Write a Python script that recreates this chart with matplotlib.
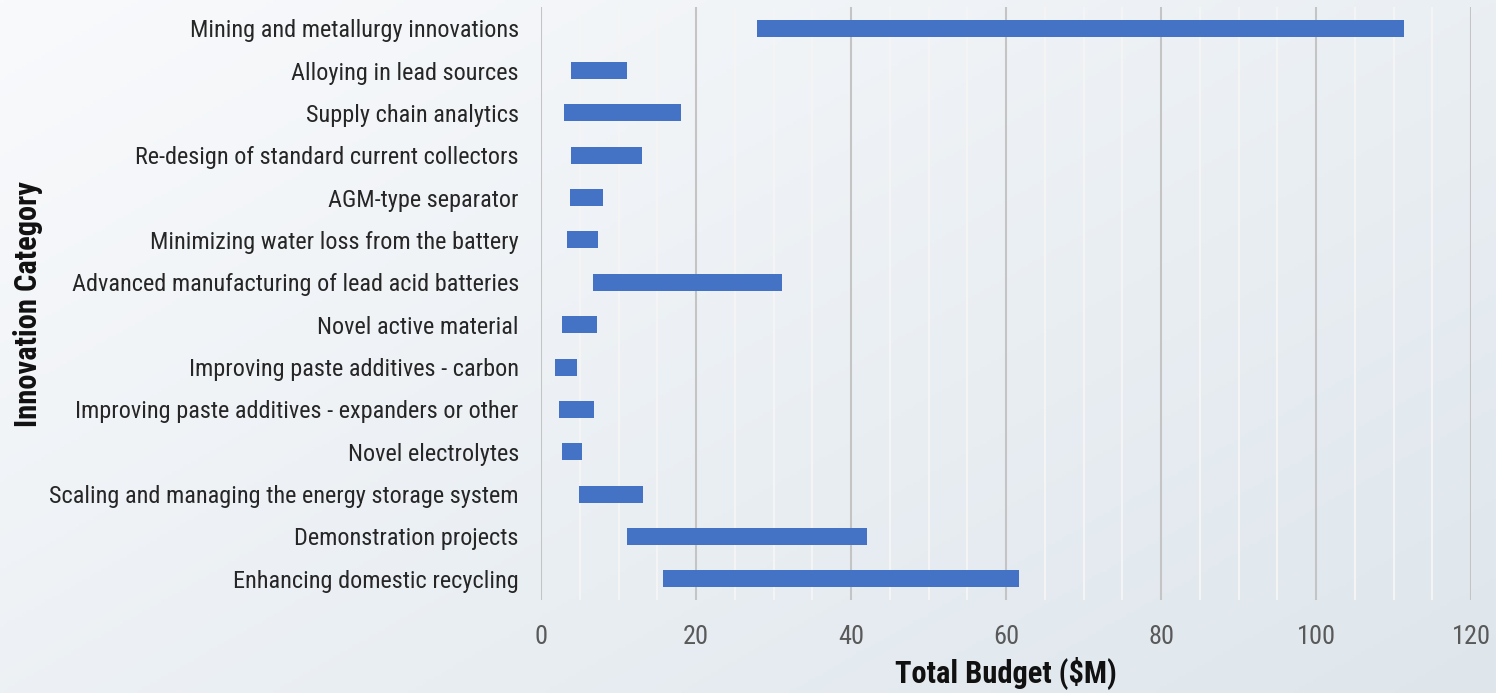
import numpy as np
import matplotlib
matplotlib.use("Agg")
import matplotlib.pyplot as plt
from matplotlib.ticker import MultipleLocator

plt.rcParams['font.family'] = ['Roboto Condensed', 'Roboto', 'DejaVu Sans']

# Innovation categories (top to bottom) with budget ranges in $M
categories = [
    "Mining and metallurgy innovations",
    "Alloying in lead sources",
    "Supply chain analytics",
    "Re-design of standard current collectors",
    "AGM-type separator",
    "Minimizing water loss from the battery",
    "Advanced manufacturing of lead acid batteries",
    "Novel active material",
    "Improving paste additives - carbon",
    "Improving paste additives - expanders or other",
    "Novel electrolytes",
    "Scaling and managing the energy storage system",
    "Demonstration projects",
    "Enhancing domestic recycling",
]
budget_low = [27.9, 3.9, 3.0, 3.9, 3.7, 3.4, 6.7, 2.7, 1.8, 2.3, 2.7, 4.9, 11.1, 15.8]
budget_high = [111.4, 11.1, 18.1, 13.0, 8.0, 7.4, 31.1, 7.2, 4.6, 6.9, 5.3, 13.2, 42.1, 61.7]

fig = plt.figure(figsize=(14.96, 6.93), dpi=100)

# soft diagonal background gradient
bg = fig.add_axes([0, 0, 1, 1], zorder=-10)
bg.axis("off")
h, w = 200, 400
yy, xx = np.mgrid[0:1:h * 1j, 0:1:w * 1j]
t = np.clip(0.55 * xx + 0.45 * yy, 0, 1)[..., None]
c0 = np.array([249, 250, 252]) / 255.0
c1 = np.array([222, 230, 236]) / 255.0
bg.imshow(c0 * (1 - t) + c1 * t, aspect="auto", extent=[0, 1, 0, 1], origin="upper")

ax = fig.add_axes([541 / 1496, 1 - 600 / 693, 930 / 1496, 593 / 693])
ax.patch.set_alpha(0)

y = np.arange(len(categories))
widths = np.array(budget_high) - np.array(budget_low)
ax.barh(y, widths, left=budget_low, height=0.4, color="#4472C4", zorder=3)

ax.set_xlim(0, 120)
ax.set_ylim(len(categories) - 0.5, -0.5)
ax.set_yticks(y)
ax.set_yticklabels(categories, fontsize=17.5, color="#262626")
ax.xaxis.set_major_locator(MultipleLocator(20))
ax.xaxis.set_minor_locator(MultipleLocator(5))
ax.tick_params(axis="x", which="both", length=0, pad=18, labelsize=19, labelcolor="#595959")
ax.tick_params(axis="y", length=0, pad=16)

ax.grid(axis="x", which="major", color="#c4c4c4", linewidth=1.5, zorder=1)
ax.grid(axis="x", which="minor", color="#f5f5f5", linewidth=1.4, zorder=1)
for s in ax.spines.values():
    s.set_visible(False)

ax.set_xlabel("Total Budget ($M)", fontsize=22, fontweight="bold", color="#111111", labelpad=6)
fig.text(28 / 1496, 1 - 304 / 693, "Innovation Category", rotation=90, ha="center", va="center",
         fontsize=22, fontweight="bold", color="#111111")

fig.savefig("out.png", dpi=100)
